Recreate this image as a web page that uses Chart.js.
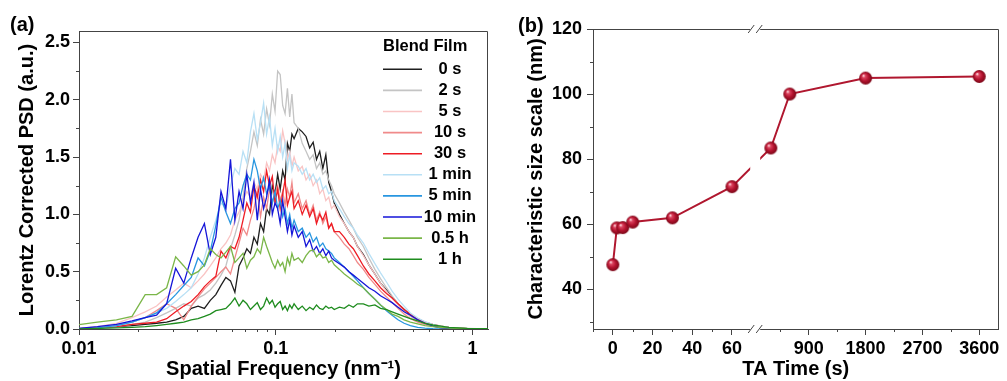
<!DOCTYPE html>
<html>
<head>
<meta charset="utf-8">
<title>Blend film PSD and characteristic size</title>
<script src="https://cdn.jsdelivr.net/npm/chart.js"></script>
<style>
  html, body { margin: 0; padding: 0; background: #fff; }
  #wrap { position: relative; width: 1007px; height: 381px; }
  #psdChart { position: absolute; left: 0; top: 0; }
  #sizeChart { position: absolute; left: 500px; top: 0; }
</style>
</head>
<body>
<div id="wrap">
  <canvas id="psdChart" width="500" height="381"></canvas>
  <canvas id="sizeChart" width="507" height="381"></canvas>
</div>
<script>
// ---- panel (a): Lorentz corrected PSD vs spatial frequency ----
const freq = [
  0.0093, 0.0124, 0.0155, 0.0186, 0.0217, 0.0248, 0.0279, 0.031, 0.0341, 0.0372,
  0.0403, 0.0434, 0.0465, 0.0496, 0.0527, 0.0558, 0.0589, 0.062, 0.0651, 0.0682,
  0.0713, 0.0744, 0.0775, 0.0806, 0.0837, 0.0868, 0.0899, 0.093, 0.0961, 0.0992,
  0.1023, 0.1054, 0.1085, 0.1116, 0.1147, 0.1178, 0.1209, 0.124, 0.1302, 0.1364,
  0.1426, 0.1488, 0.155, 0.1612, 0.1674, 0.1736, 0.1798, 0.186, 0.1922, 0.1984,
  0.2108, 0.2232, 0.2356, 0.248, 0.2604, 0.279, 0.2976, 0.3193, 0.341, 0.3658,
  0.3906, 0.4185, 0.4495, 0.4836, 0.527, 0.5735, 0.6293, 0.6913, 0.7595, 0.8463,
  0.9424, 1.0509, 1.2
];

const psd0s = [
  0.0, 0.01, 0.02, 0.03, 0.04, 0.05, 0.06, 0.08, 0.11, 0.18,
  0.20, 0.18, 0.25, 0.30, 0.38, 0.45, 0.42, 0.32, 0.55, 0.62,
  0.70, 0.66, 0.80, 0.74, 0.92, 0.85, 1.05, 1.00, 1.25, 1.18,
  1.35, 1.22, 1.38, 1.30, 1.62, 1.55, 1.70, 1.66, 1.75, 1.72,
  1.68, 1.58, 1.63, 1.48, 1.55, 1.40, 1.52, 1.28, 1.20, 1.10,
  1.00, 0.92, 0.85, 0.80, 0.72, 0.65, 0.56, 0.48, 0.40, 0.34,
  0.28, 0.22, 0.17, 0.12, 0.08, 0.055, 0.035, 0.02, 0.012, 0.007, 0.004, 0.002, 0.001
];
const psd2s = [
  0.0, 0.01, 0.02, 0.04, 0.06, 0.10, 0.14, 0.18, 0.22, 0.20,
  0.27, 0.30, 0.34, 0.40, 0.47, 0.55, 0.70, 0.82, 0.95, 1.15,
  1.40, 1.55, 1.72, 1.60, 1.83, 1.70, 1.92, 1.78, 2.05, 1.90,
  2.25, 2.22, 1.95, 1.88, 2.10, 1.85, 2.05, 1.80, 1.75, 1.62,
  1.55, 1.48, 1.52, 1.40, 1.45, 1.35, 1.38, 1.30, 1.25, 1.18,
  1.10, 1.02, 0.95, 0.88, 0.80, 0.72, 0.62, 0.52, 0.44, 0.36,
  0.29, 0.22, 0.16, 0.11, 0.075, 0.05, 0.035, 0.022, 0.014, 0.008, 0.005, 0.003, 0.002
];
const psd5s = [
  0.0, 0.02, 0.05, 0.10, 0.15, 0.20, 0.28, 0.34, 0.40, 0.36,
  0.42, 0.48, 0.55, 0.62, 0.70, 0.75, 0.82, 0.95, 1.02, 1.12,
  1.20, 1.15, 1.28, 1.22, 1.35, 1.30, 1.45, 1.38, 1.52, 1.45,
  1.60, 1.55, 1.73, 1.62, 1.48, 1.55, 1.42, 1.50, 1.38, 1.42,
  1.30, 1.35, 1.25, 1.30, 1.18, 1.22, 1.12, 1.15, 1.05, 1.08,
  0.98, 0.92, 0.85, 0.80, 0.72, 0.64, 0.56, 0.48, 0.40, 0.33,
  0.27, 0.21, 0.15, 0.11, 0.075, 0.05, 0.03, 0.02, 0.012, 0.007, 0.004, 0.002, 0.001
];
const psd10s = [
  0.0, 0.01, 0.03, 0.06, 0.10, 0.16, 0.22, 0.18, 0.08, 0.20,
  0.28, 0.35, 0.40, 0.45, 0.50, 0.54, 0.48, 0.62, 0.75, 0.88,
  0.82, 0.95, 1.05, 1.20, 0.98, 1.15, 1.05, 1.22, 1.10, 1.18,
  1.25, 1.12, 1.20, 1.08, 1.22, 1.15, 1.28, 1.10, 1.18, 1.05,
  1.12, 1.00, 1.08, 0.95, 1.02, 0.92, 0.98, 0.88, 0.92, 0.85,
  0.80, 0.74, 0.70, 0.64, 0.58, 0.52, 0.45, 0.39, 0.33, 0.28,
  0.23, 0.18, 0.13, 0.09, 0.06, 0.04, 0.025, 0.015, 0.009, 0.005, 0.003, 0.001, 0.0
];
const psd30s = [
  0.0, 0.01, 0.02, 0.04, 0.05, 0.06, 0.09, 0.15, 0.20, 0.24,
  0.30, 0.37, 0.42, 0.46, 0.68, 0.62, 0.72, 0.70, 0.80, 0.95,
  1.10, 1.02, 1.25, 1.15, 1.30, 1.20, 1.38, 1.25, 1.33, 1.10,
  1.22, 1.05, 1.18, 1.30, 1.08, 1.15, 1.20, 1.05, 1.12, 1.00,
  1.08, 0.98, 1.05, 0.92, 1.00, 0.95, 1.02, 0.88, 0.92, 0.85,
  0.85, 0.80, 0.74, 0.70, 0.64, 0.55, 0.48, 0.42, 0.36, 0.31,
  0.27, 0.22, 0.17, 0.13, 0.09, 0.06, 0.04, 0.025, 0.014, 0.008, 0.004, 0.002, 0.001
];
const psd1min = [
  0.0, 0.01, 0.03, 0.06, 0.10, 0.14, 0.18, 0.24, 0.30, 0.36,
  0.48, 0.62, 0.80, 0.95, 1.10, 1.05, 1.25, 1.40, 1.35, 1.55,
  1.45, 1.72, 1.88, 1.65, 1.80, 1.97, 1.70, 1.85, 1.60, 1.75,
  1.55, 1.68, 1.50, 1.62, 1.40, 1.52, 1.38, 1.45, 1.42, 1.35,
  1.40, 1.30, 1.35, 1.28, 1.32, 1.22, 1.25, 1.18, 1.20, 1.12,
  1.05, 0.98, 0.92, 0.88, 0.82, 0.75, 0.66, 0.57, 0.49, 0.41,
  0.33, 0.26, 0.20, 0.14, 0.095, 0.065, 0.04, 0.025, 0.015, 0.008, 0.004, 0.002, 0.001
];
const psd5min = [
  0.0, 0.01, 0.03, 0.06, 0.10, 0.14, 0.22, 0.30, 0.38, 0.45,
  0.62, 0.55, 0.68, 0.90, 1.15, 1.02, 0.92, 1.05, 1.10, 1.25,
  1.35, 1.30, 1.48, 1.38, 1.22, 1.32, 1.18, 1.25, 1.10, 1.20,
  1.05, 1.12, 0.98, 1.05, 0.92, 1.00, 0.88, 0.95, 0.85, 0.88,
  0.80, 0.84, 0.76, 0.80, 0.72, 0.75, 0.70, 0.68, 0.66, 0.62,
  0.58, 0.54, 0.50, 0.46, 0.42, 0.36, 0.31, 0.26, 0.21, 0.16,
  0.12, 0.08, 0.05, 0.03, 0.015, 0.007, 0.003, 0.001, 0.0, 0.0, 0.0, 0.0, 0.0
];
const psd10min = [
  0.0, 0.02, 0.04, 0.07, 0.10, 0.12, 0.22, 0.53, 0.40, 0.62,
  0.80, 0.92, 0.65, 0.80, 1.20, 1.05, 1.48, 0.95, 1.20, 1.05,
  1.35, 1.10, 1.28, 0.95, 1.22, 1.05, 1.15, 1.30, 1.00, 1.10,
  1.05, 0.92, 1.12, 0.98, 0.85, 0.95, 0.82, 0.90, 0.80, 0.85,
  0.72, 0.78, 0.68, 0.72, 0.66, 0.70, 0.64, 0.68, 0.62, 0.60,
  0.57, 0.54, 0.50, 0.47, 0.44, 0.40, 0.36, 0.33, 0.29, 0.26,
  0.23, 0.19, 0.15, 0.12, 0.08, 0.05, 0.025, 0.01, 0.004, 0.001, 0.0, 0.0, 0.0
];
const psd05h = [
  0.03, 0.06, 0.08, 0.11, 0.30, 0.30, 0.36, 0.63, 0.55, 0.47,
  0.50, 0.56, 0.70, 0.65, 0.62, 0.67, 0.72, 0.58, 0.62, 0.66,
  0.53, 0.60, 0.63, 0.70, 0.66, 0.80, 0.72, 0.65, 0.58, 0.53,
  0.60, 0.55, 0.58, 0.50, 0.62, 0.56, 0.66, 0.60, 0.62, 0.58,
  0.64, 0.68, 0.69, 0.63, 0.66, 0.62, 0.63, 0.58, 0.60, 0.56,
  0.52, 0.48, 0.45, 0.42, 0.39, 0.36, 0.31, 0.26, 0.21, 0.17,
  0.13, 0.11, 0.08, 0.06, 0.045, 0.03, 0.02, 0.013, 0.008, 0.005, 0.003, 0.002, 0.001
];
const psd1h = [
  0.0, 0.005, 0.01, 0.015, 0.02, 0.03, 0.04, 0.05, 0.06, 0.08,
  0.09, 0.11, 0.13, 0.16, 0.17, 0.18, 0.22, 0.27, 0.20, 0.25,
  0.22, 0.17, 0.20, 0.23, 0.17, 0.20, 0.27, 0.22, 0.25, 0.19,
  0.22, 0.24, 0.17, 0.20, 0.16, 0.21, 0.18, 0.22, 0.17, 0.20,
  0.16, 0.19, 0.17, 0.21, 0.18, 0.17, 0.20, 0.18, 0.19, 0.17,
  0.19, 0.18, 0.21, 0.19, 0.22, 0.22, 0.20, 0.21, 0.18, 0.17,
  0.15, 0.13, 0.11, 0.09, 0.07, 0.05, 0.035, 0.025, 0.015, 0.01, 0.006, 0.004, 0.003
];

const psdSeries = [psd0s, psd2s, psd5s, psd10s, psd30s, psd1min, psd5min, psd10min, psd05h, psd1h];
const seriesLabels = ['0 s', '2 s', '5 s', '10 s', '30 s', '1 min', '5 min', '10 min', '0.5 h', '1 h'];
const legendTitle = 'Blend Film';

const freqTicks = [0.01, 0.1, 1];
const freqMinorTicks = [0.02, 0.03, 0.04, 0.05, 0.06, 0.07, 0.08, 0.09, 0.2, 0.3, 0.4, 0.5, 0.6, 0.7, 0.8, 0.9];
const psdTicks = [0, 0.5, 1.0, 1.5, 2.0, 2.5];
const psdMinorTicks = [0.25, 0.75, 1.25, 1.75, 2.25];

// ---- panel (b): characteristic size vs TA time ----
const timeS = [0, 2, 5, 10, 30, 60, 300, 600, 1800, 3600];
const sizeNm = [47.5, 58.8, 58.9, 60.6, 61.9, 71.5, 83.4, 100.0, 104.9, 105.4];
const timeTicks = [0, 20, 40, 60, 900, 1800, 2700, 3600];
const timeMinorTicks = [-10, 10, 30, 50, 450, 1350, 2250, 3150];
const sizeTicks = [40, 60, 80, 100, 120];
const sizeMinorTicks = [30, 50, 70, 90, 110];

// styling
const seriesColors = ['#1e1e1e', '#c4c4c4', '#f9c4c4', '#f08a8a', '#ee1c24',
                      '#b8e0f5', '#2896e0', '#1515d8', '#7ab648', '#1e8c1e'];
const axisColor = '#444';
const fontFamily = '"Liberation Sans", Arial, sans-serif';
const timeBreak = { leftMax: 71.7, rightMin: 52, split: 0.4 };

Chart.defaults.font.family = fontFamily;
Chart.defaults.font.size = 18;
Chart.defaults.font.weight = 'bold';
Chart.defaults.color = '#000';

// linear scale with an axis break: [min, leftMax] on the left part, [rightMin, max] on the right
class BrokenScale extends Chart.LinearScale {
  static id = 'broken';
  buildTicks() {
    return timeTicks.map(v => ({ value: v }));
  }
  getPixelForValue(value) {
    let d;
    if (value <= timeBreak.leftMax) {
      d = (value - this.min) / (timeBreak.leftMax - this.min) * timeBreak.split;
    } else {
      d = timeBreak.split + (value - timeBreak.rightMin) / (this.max - timeBreak.rightMin) * (1 - timeBreak.split);
    }
    return this.getPixelForDecimal(d);
  }
  getValueForPixel(pixel) {
    const d = this.getDecimalForPixel(pixel);
    if (d <= timeBreak.split) return this.min + d / timeBreak.split * (timeBreak.leftMax - this.min);
    return timeBreak.rightMin + (d - timeBreak.split) / (1 - timeBreak.split) * (this.max - timeBreak.rightMin);
  }
}
Chart.register(BrokenScale);

// top/right frame, short minor ticks and the panel letter
const framePlugin = {
  id: 'frame',
  beforeDatasetsDraw(chart, args, opts) {
    const { ctx, chartArea: a, scales } = chart;
    ctx.save();
    ctx.strokeStyle = axisColor;
    ctx.lineWidth = 1;
    ctx.beginPath();
    const top = Math.round(a.top) + 0.5;
    const right = Math.round(a.right) - 0.5;
    ctx.moveTo(a.left, top);
    ctx.lineTo(right, top);
    ctx.lineTo(right, a.bottom);
    opts.xMinor.forEach(v => {
      const px = Math.round(scales.x.getPixelForValue(v)) + 0.5;
      ctx.moveTo(px, a.bottom);
      ctx.lineTo(px, a.bottom + 3);
    });
    opts.yMinor.forEach(v => {
      const py = Math.round(scales.y.getPixelForValue(v)) + 0.5;
      ctx.moveTo(a.left - 3, py);
      ctx.lineTo(a.left, py);
    });
    ctx.stroke();
    ctx.restore();
  },
  afterDraw(chart, args, opts) {
    const ctx = chart.ctx;
    ctx.save();
    ctx.font = 'bold 20px ' + fontFamily;
    ctx.fillStyle = '#000';
    ctx.textAlign = 'left';
    ctx.textBaseline = 'alphabetic';
    ctx.fillText(opts.label, opts.labelX, opts.labelY);
    ctx.restore();
  }
};

// legend in the style of the original (title plus line samples)
const blendLegend = {
  id: 'blendLegend',
  afterDraw(chart) {
    const ctx = chart.ctx;
    ctx.save();
    ctx.font = 'bold 16.5px ' + fontFamily;
    ctx.fillStyle = '#000';
    ctx.textBaseline = 'middle';
    ctx.textAlign = 'left';
    ctx.fillText(legendTitle, 383, 46);
    chart.data.datasets.forEach((ds, i) => {
      const y = 69.3 + i * 21.1;
      ctx.strokeStyle = ds.borderColor;
      ctx.lineWidth = 1.6;
      ctx.beginPath();
      ctx.moveTo(383, y);
      ctx.lineTo(422, y);
      ctx.stroke();
      ctx.textAlign = 'center';
      ctx.fillText(ds.label, 450, y);
    });
    ctx.restore();
  }
};

// gap and // marks where the time axis is broken
const breakPlugin = {
  id: 'axisBreak',
  afterDatasetsDraw(chart) {
    const { ctx, chartArea: a, scales } = chart;
    const bx = scales.x.getPixelForValue(timeBreak.leftMax);
    ctx.save();
    ctx.fillStyle = '#fff';
    ctx.fillRect(bx - 5, a.top - 2, 10, a.bottom - a.top + 4);
    ctx.strokeStyle = axisColor;
    ctx.lineWidth = 1;
    ctx.beginPath();
    [a.top, a.bottom].forEach(y => {
      [-4, 4].forEach(dx => {
        ctx.moveTo(bx + dx - 3, y + 4);
        ctx.lineTo(bx + dx + 3, y - 4);
      });
    });
    ctx.stroke();
    ctx.restore();
  }
};

function axisStyle(extra) {
  return Object.assign({
    grid: { drawOnChartArea: false, drawTicks: true, tickLength: 6, tickColor: axisColor, tickWidth: 1 },
    border: { display: true, color: axisColor, width: 1 }
  }, extra);
}

new Chart(document.getElementById('psdChart'), {
  type: 'line',
  data: {
    datasets: psdSeries.map((vals, i) => ({
      label: seriesLabels[i],
      data: freq.map((f, j) => ({ x: f, y: vals[j] })),
      borderColor: seriesColors[i],
      backgroundColor: seriesColors[i],
      borderWidth: 1.3,
      pointRadius: 0,
      tension: 0,
      fill: false,
      order: -i // later series drawn on top
    }))
  },
  options: {
    responsive: false,
    animation: false,
    events: [],
    layout: { padding: { left: 0, top: 31, right: 12, bottom: 0 } },
    plugins: {
      legend: { display: false },
      tooltip: { enabled: false },
      frame: { xMinor: freqMinorTicks, yMinor: psdMinorTicks, label: '(a)', labelX: 10, labelY: 31 }
    },
    scales: {
      x: axisStyle({
        type: 'logarithmic',
        min: 0.01,
        max: 1.2,
        afterBuildTicks: s => { s.ticks = freqTicks.map(v => ({ value: v })); },
        afterFit: s => { s.height = 52; },
        ticks: { autoSkip: false, maxRotation: 0, padding: 3, callback: v => String(v) },
        title: { display: true, text: 'Spatial Frequency (nm\u207B\u00B9)', font: { size: 20 }, padding: { top: 0, bottom: 0 } }
      }),
      y: axisStyle({
        type: 'linear',
        min: 0,
        max: 2.6,
        afterBuildTicks: s => { s.ticks = psdTicks.map(v => ({ value: v })); },
        afterFit: s => { s.width = 79; },
        ticks: { autoSkip: false, padding: 3, callback: v => v.toFixed(1) },
        title: { display: true, text: 'Lorentz Corrected PSD (a.u.)', font: { size: 20 }, padding: { top: 15, bottom: 0 } }
      })
    }
  },
  plugins: [framePlugin, blendLegend]
});

function makeBall(r) {
  const c = document.createElement('canvas');
  const s = Math.ceil(r * 2 + 2);
  c.width = s;
  c.height = s;
  const g = c.getContext('2d');
  const cx = s / 2, cy = s / 2;
  const grad = g.createRadialGradient(cx - r * 0.35, cy - r * 0.4, r * 0.05, cx, cy, r);
  grad.addColorStop(0, '#ffe4e8');
  grad.addColorStop(0.22, '#dc4560');
  grad.addColorStop(0.6, '#b3132f');
  grad.addColorStop(1, '#7a0818');
  g.fillStyle = grad;
  g.beginPath();
  g.arc(cx, cy, r, 0, Math.PI * 2);
  g.fill();
  return c;
}

new Chart(document.getElementById('sizeChart'), {
  type: 'line',
  data: {
    datasets: [{
      label: 'Characteristic size scale',
      data: timeS.map((t, i) => ({ x: t, y: sizeNm[i] })),
      borderColor: '#b0172f',
      backgroundColor: '#b0172f',
      borderWidth: 2,
      pointStyle: makeBall(6.5),
      pointRadius: 6.5,
      tension: 0,
      fill: false
    }]
  },
  options: {
    responsive: false,
    animation: false,
    events: [],
    layout: { padding: { left: 0, top: 29, right: 5, bottom: 0 } },
    plugins: {
      legend: { display: false },
      tooltip: { enabled: false },
      frame: { xMinor: timeMinorTicks, yMinor: sizeMinorTicks, label: '(b)', labelX: 18, labelY: 32 }
    },
    scales: {
      x: axisStyle({
        type: 'broken',
        min: -10,
        max: 3905,
        afterFit: s => { s.height = 52; },
        ticks: { autoSkip: false, maxRotation: 0, padding: 3, callback: v => String(v) },
        title: { display: true, text: 'TA Time (s)', font: { size: 20 }, padding: { top: 0, bottom: 0 } }
      }),
      y: axisStyle({
        type: 'linear',
        min: 27.7,
        max: 120,
        afterBuildTicks: s => { s.ticks = sizeTicks.map(v => ({ value: v })); },
        afterFit: s => { s.width = 93; },
        ticks: { autoSkip: false, padding: 5, callback: v => String(v) },
        title: { display: true, text: 'Characteristic size scale (nm)', font: { size: 20 }, padding: { top: 24, bottom: 0 } }
      })
    }
  },
  plugins: [framePlugin, breakPlugin]
});
</script>
</body>
</html>
